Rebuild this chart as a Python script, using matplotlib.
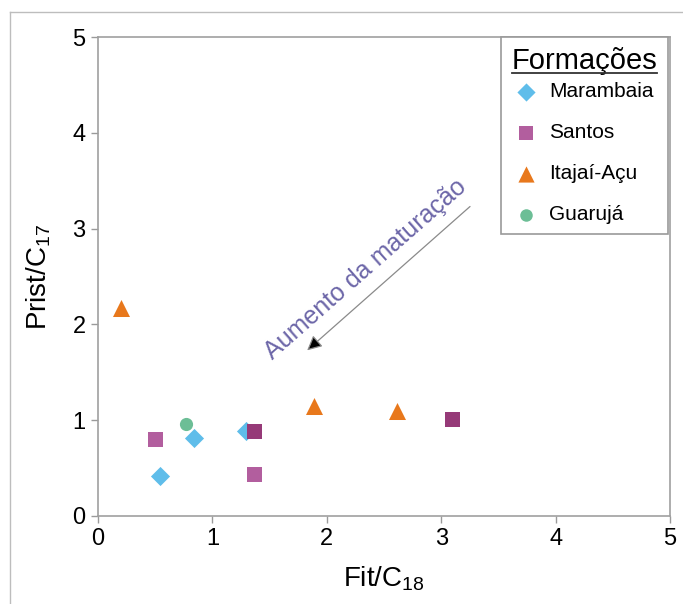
"""
Prist/C17 x Fit/C18 - formações
"""
import matplotlib
matplotlib.use("Agg")
import matplotlib.pyplot as plt
from matplotlib import rcParams
from matplotlib.lines import Line2D

rcParams["font.family"] = ["Liberation Sans", "DejaVu Sans"]

# dados
marambaia_x = [0.545, 0.84, 1.29]
marambaia_y = [0.42, 0.81, 0.89]

santos_x = [0.50, 1.37, 1.37, 3.10]
santos_y = [0.80, 0.88, 0.43, 1.01]
santos_cores = ["#B25E9E", "#963A78", "#B25E9E", "#963A78"]

itajai_x = [0.20, 1.89, 2.61]
itajai_y = [2.17, 1.15, 1.10]

guaruja_x = [0.77]
guaruja_y = [0.96]

seta_inicio = (3.27, 3.25)
seta_fim = (1.81, 1.71)

ticks = [0, 1, 2, 3, 4, 5]

fig = plt.figure(figsize=(6.83, 6.04), dpi=100)
ax = fig.add_axes([0.1435, 0.1457, 0.8375, 0.793])

ax.scatter(marambaia_x, marambaia_y, marker="D", s=95, color="#5FBDEA",
           linewidths=0, label="Marambaia", zorder=3)
ax.scatter(santos_x, santos_y, marker="s", s=115, color=santos_cores,
           linewidths=0, label="Santos", zorder=3)
ax.scatter(itajai_x, itajai_y, marker="^", s=150, color="#E8781C",
           linewidths=0, label="Itajaí-Açu", zorder=3)
ax.scatter(guaruja_x, guaruja_y, marker="o", s=90, color="#6CBE96",
           linewidths=0, label="Guarujá", zorder=3)

# seta de maturação
ax.annotate("", xy=seta_fim, xytext=seta_inicio,
            arrowprops=dict(arrowstyle="-|>", fc="black", ec="#8A8A8A",
                            lw=0.9, mutation_scale=22))
ax.text(2.34, 2.58, "Aumento da maturação", rotation=41.3,
        rotation_mode="anchor", ha="center", va="center",
        color="#6C66A8", fontsize=18)

ax.set_xlim(0, 5)
ax.set_ylim(0, 5)
ax.set_xticks(ticks)
ax.set_yticks(ticks)
ax.tick_params(direction="out", length=5, width=1, color="#9A9A9A",
               labelsize=17, pad=4)
for s in ax.spines.values():
    s.set_color("#A0A0A0")
    s.set_linewidth(1.2)

ax.set_xlabel(r"Fit/C$\mathregular{_{18}}$", fontsize=20, labelpad=10)
ax.set_ylabel(r"Prist/C$\mathregular{_{17}}$", fontsize=20, labelpad=14)

leg = ax.legend(loc="upper right", bbox_to_anchor=(0.996, 1.0),
                borderaxespad=0, fontsize=15, title="Formações",
                title_fontsize=21, fancybox=False, edgecolor="#9A9A9A",
                labelspacing=1.05, handlelength=1.0, handletextpad=0.6,
                borderpad=0.5, markerscale=0.95, framealpha=1)
leg.get_frame().set_linewidth(1.2)
leg._legend_box.sep = 5
for h in leg.legend_handles:
    h.set_color(h.get_facecolor()[0])

# moldura externa
fig.add_artist(Line2D([10 / 683, 10 / 683], [0, 1 - 12 / 604],
                      transform=fig.transFigure, color="#BDBDBD", lw=1))
fig.add_artist(Line2D([10 / 683, 1], [1 - 12 / 604, 1 - 12 / 604],
                      transform=fig.transFigure, color="#BDBDBD", lw=1))

fig.canvas.draw()
# sublinhado do título da legenda
tb = leg.get_title().get_window_extent()
inv = fig.transFigure.inverted()
(x0, y0), (x1, _) = inv.transform([(tb.x0, tb.y0 + 2), (tb.x1, tb.y0)])
fig.add_artist(Line2D([x0, x1], [y0, y0], transform=fig.transFigure,
                      color="#333333", lw=1.3))

plt.savefig("out.png", dpi=100)
plt.close()
